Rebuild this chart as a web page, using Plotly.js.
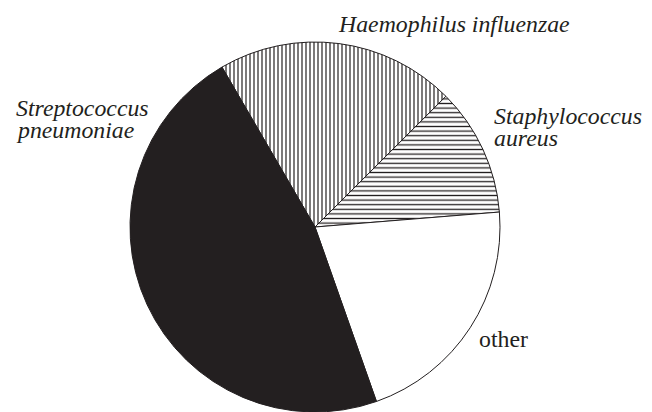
<!DOCTYPE html>
<html>
<head>
<meta charset="utf-8">
<script src="https://cdn.plot.ly/plotly-3.0.1.min.js"></script>
<style>
  html, body { margin: 0; padding: 0; background: #fff; }
  #chart { width: 652px; height: 412px; }
</style>
</head>
<body>
<div id="chart"></div>
<script>
// ---- data (clockwise from the Haemophilus / Streptococcus boundary) ----
var labels = ['Haemophilus influenzae', 'Staphylococcus aureus', 'other', 'Streptococcus pneumoniae'];
var values = [20.9, 11.2, 20.9, 47.0];
var italicLabel = [true, true, false, true];

// ---- styling ----
var INK = '#231f20';
var W = 652, H = 412;
var cx = 315, cy = 227, R = 185;
var SERIF = 'Liberation Serif';

var trace = {
  type: 'pie',
  labels: labels,
  values: values,
  sort: false,
  direction: 'clockwise',
  rotation: -30.2,
  textinfo: 'none',
  hoverinfo: 'none',
  showlegend: false,
  domain: { x: [(cx - R) / W, (cx + R) / W], y: [(H - cy - R) / H, (H - cy + R) / H] },
  marker: {
    colors: [INK, INK, '#ffffff', INK],
    line: { color: INK, width: 1 },
    pattern: {
      shape: ['|', '-', '', ''],
      bgcolor: '#ffffff',
      size: [4, 4.6, 8, 8],
      solidity: [0.3, 0.28, 0.2, 0.2]
    }
  }
};

// label placement (pixels): left x, baseline of first line
var labelPos = [
  { x: 337, base: 31, split: false },
  { x: 493, base: 123, split: true },
  { x: 478, base: 346, split: false },
  { x: 15, base: 115, split: true }
];
var FS = 23.8, LINE = 22.5;

var annotations = [];
labels.forEach(function (lab, i) {
  var p = labelPos[i];
  var lines = p.split ? lab.split(' ') : [lab];
  lines.forEach(function (ln, k) {
    var base = p.base + k * LINE;
    annotations.push({
      xref: 'paper', yref: 'paper',
      x: p.x / W, y: 1 - (base - 0.30 * FS) / H,
      xanchor: 'left', yanchor: 'middle',
      showarrow: false,
      borderpad: 0,
      text: ln,
      font: { family: SERIF, size: FS, color: INK, style: italicLabel[i] ? 'italic' : 'normal' }
    });
  });
});

var layout = {
  width: W, height: H,
  margin: { l: 0, r: 0, t: 0, b: 0 },
  paper_bgcolor: '#ffffff',
  plot_bgcolor: '#ffffff',
  font: { family: SERIF },
  annotations: annotations
};

Plotly.newPlot('chart', [trace], layout, { staticPlot: true, displayModeBar: false });
</script>
</body>
</html>
